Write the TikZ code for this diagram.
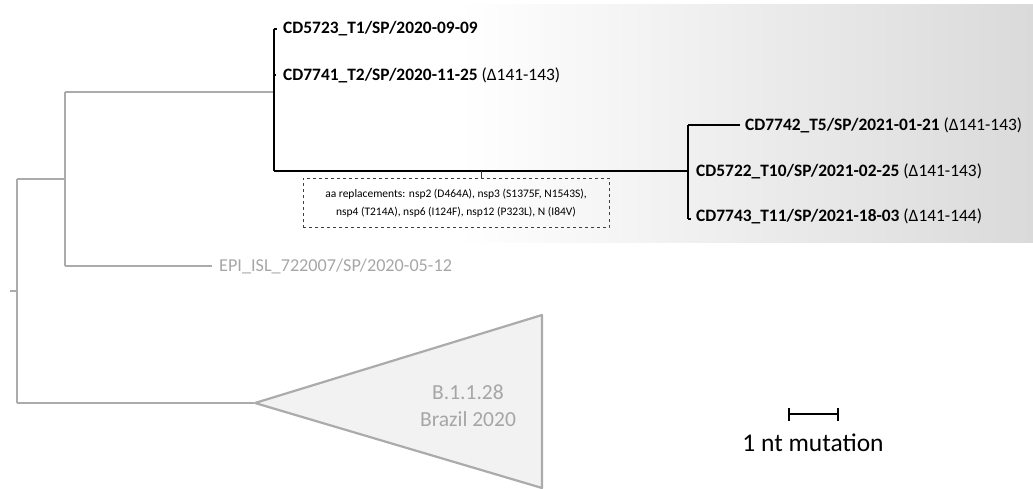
\documentclass[tikz,border=0pt]{standalone}
\usepackage{fontspec}
\setmainfont{Carlito}
\usetikzlibrary{calc}
\definecolor{lgray}{HTML}{ABABAB}
\definecolor{tgray}{HTML}{A6A6A6}
\definecolor{bgray}{HTML}{DADADA}
\definecolor{trifill}{HTML}{F2F2F2}
\tikzset{
  gbranch/.style={draw=lgray, line width=2.4pt},
  bbranch/.style={draw=black, line width=2.2pt},
  leaf/.style={anchor=west, inner sep=0pt, font=\fontsize{17.4}{20}\selectfont\bfseries},
  grayleaf/.style={anchor=west, inner sep=0pt, text=tgray, font=\fontsize{18.2}{20}\selectfont},
  mutbox/.style={draw=black!75, dashed, line width=0.8pt, inner sep=0pt, minimum width=306pt, minimum height=49pt, align=center, font=\fontsize{11.5}{18}\selectfont},
}
\begin{document}
\begin{tikzpicture}[x=1pt,y=-1pt]
\useasboundingbox (0,0) rectangle (1033,489);
% background shading
\fill[white] (255,5) rectangle (460,242);
\shade[left color=white, right color=bgray, shading=axis] (459,5) rectangle (1033,242);
% internal coordinates
\coordinate (root) at (10,291);
\coordinate (n0) at (17,291);
\coordinate (n0t) at (17,179);
\coordinate (n0b) at (17,403);
\coordinate (n1) at (65,179);
\coordinate (n1t) at (65,92);
\coordinate (n1b) at (65,266);
\coordinate (n2) at (274,92);
\coordinate (n2t) at (274,29);
\coordinate (n2m) at (274,75);
\coordinate (n2b) at (274,171);
\coordinate (n3) at (688,171);
\coordinate (n3t) at (688,125);
\coordinate (n3b) at (688,219);
\coordinate (tickA) at (481,171);
% leaves
\node[leaf] (l1) at (283,29) {CD5723\_T1/SP/2020-09-09};
\node[leaf] (l2) at (283,75) {CD7741\_T2/SP/2020-11-25 \textnormal{(Δ141-143)}};
\node[leaf] (l3) at (745,125) {CD7742\_T5/SP/2021-01-21 \textnormal{(Δ141-143)}};
\node[leaf] (l4) at (696,171) {CD5722\_T10/SP/2021-02-25 \textnormal{(Δ141-143)}};
\node[leaf] (l5) at (696,216) {CD7743\_T11/SP/2021-18-03 \textnormal{(Δ141-144)}};
\node[grayleaf] (epi) at (219,266) {EPI\_ISL\_722007/SP/2020-05-12};
% gray branches
\draw[gbranch] (root) -- (n0);
\draw[gbranch] (n0t) -- (n0b);
\draw[gbranch] (n0t) -- (n1);
\draw[gbranch] (n1t) -- (n1b);
\draw[gbranch] (n1t) -- (n2);
\draw[gbranch] (n1b) -- ($(epi.west)+(-7,0)$);
% collapsed clade
\node[inner sep=0pt] (tri) at (255,403) {};
\draw[gbranch] (n0b) -- (tri);
\draw[draw=lgray, fill=trifill, line width=2.2pt, line join=round] (tri.center) -- (542,315) -- (542,488) -- cycle;
\node[text=tgray, align=center, font=\fontsize{21.5}{27}\selectfont] (clade) at (468,406) {B.1.1.28\\Brazil 2020};
% black clade
\draw[bbranch] (n2t) -- (n2b);
\draw[bbranch] (n2t) -- ++(3,0);
\draw[bbranch] (n2m) -- ++(2,0);
\draw[bbranch] (n2b) -- (n3);
\draw[bbranch] (n3t) -- (n3b);
\draw[bbranch] (n3t) -- ($(l3.west)+(-5,0)$);
\draw[bbranch] (n3b) -- ++(3,0);
% mutation box
\node[mutbox] (box) at (456,203) {aa replacements: nsp2 (D464A), nsp3 (S1375F, N1543S),\\nsp4 (T214A), nsp6 (I124F), nsp12 (P323L), N (I84V)};
\draw[black!80, line width=0.8pt] (tickA) -- (tickA |- box.north);
% scale bar
\coordinate (sbL) at (789,414);
\coordinate (sbR) at (838,414);
\draw[line width=2pt] (sbL) -- (sbR);
\draw[line width=2pt] ($(sbL)+(0,-6)$) -- ($(sbL)+(0,7)$);
\draw[line width=2pt] ($(sbR)+(0,-6)$) -- ($(sbR)+(0,7)$);
\node[font=\fontsize{25.5}{30}\selectfont] (sblabel) at (813,443) {1 nt mutation};
\end{tikzpicture}
\end{document}
